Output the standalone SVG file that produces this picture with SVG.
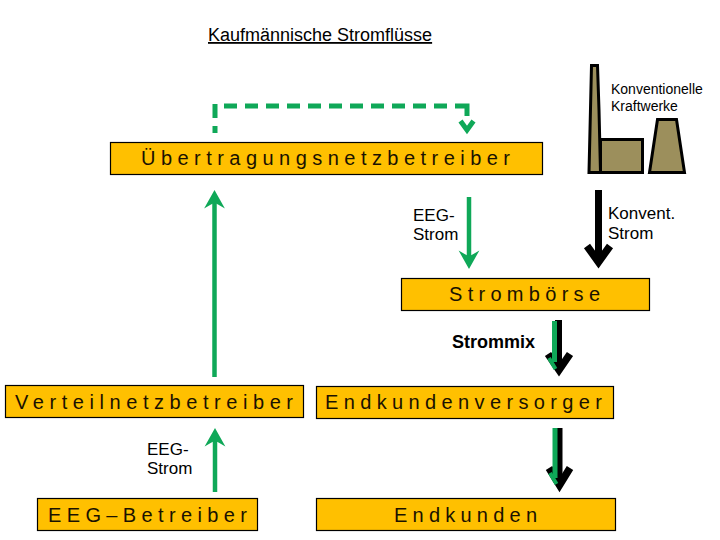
<svg xmlns="http://www.w3.org/2000/svg" width="720" height="540" viewBox="0 0 720 540">
<style>
text{font-family:"Liberation Sans",Arial,sans-serif;fill:#000}
.box{fill:#ffc000;stroke:#000;stroke-width:1.2}
.bt{font-size:20px;fill:#1a1200}
.lb{font-size:17px}
.g{fill:none;stroke:#0fa858;stroke-width:4.500}
.gh{fill:none;stroke:#0fa858;stroke-width:5;stroke-miterlimit:8}
.gs{fill:#0fa858;stroke:#0fa858;stroke-width:4;stroke-miterlimit:8}
.gd{fill:none;stroke:#0fa858;stroke-width:5}
.k{fill:none;stroke:#000;stroke-width:7}
.kh{fill:none;stroke:#000;stroke-width:7.500;stroke-miterlimit:8}
.f{fill:#9c8f5c;stroke:#000;stroke-width:3}
</style>
<rect width="720" height="540" fill="#fff"/>
<text id="title" x="208" y="41" font-size="18" text-decoration="underline">Kaufmännische Stromflüsse</text>
<g id="kraftwerke">
<path class="f" d="M591.500 65.500H597.500L599 110L600.500 172.500H589L590 130Z"/>
<rect class="f" x="600.500" y="139.500" width="42" height="33"/>
<path class="f" d="M657.500 119.500H676.500L684.500 172.500H649.500Z"/>
<text font-size="14" fill="#222"><tspan x="611" y="94">Konventionelle</tspan><tspan x="611" y="111">Kraftwerke</tspan></text>
</g>
<g id="uenb"><rect class="box" x="110.500" y="142.500" width="432" height="32"/><text class="bt" x="141" y="165" textLength="369" lengthAdjust="spacing">Übertragungsnetzbetreiber</text></g>
<g id="boerse"><rect class="box" x="401.500" y="278.500" width="248" height="32"/><text class="bt" x="449" y="301" textLength="151" lengthAdjust="spacing">Strombörse</text></g>
<g id="vnb"><rect class="box" x="5.500" y="385.500" width="298" height="32"/><text class="bt" x="15" y="409" textLength="278" lengthAdjust="spacing">Verteilnetzbetreiber</text></g>
<g id="versorger"><rect class="box" x="316.500" y="386.500" width="297" height="32"/><text class="bt" x="325" y="409" textLength="277" lengthAdjust="spacing">Endkundenversorger</text></g>
<g id="eeg"><rect class="box" x="37.500" y="498.500" width="220" height="32"/><text class="bt" x="48" y="522" textLength="199" lengthAdjust="spacing">EEG–Betreiber</text></g>
<g id="endkunden"><rect class="box" x="316.500" y="498.500" width="299" height="32"/><text class="bt" x="394" y="522" textLength="143" lengthAdjust="spacing">Endkunden</text></g>
<g id="labels">
<text class="lb"><tspan x="413" y="221">EEG-</tspan><tspan x="413" y="240">Strom</tspan></text>
<text class="lb"><tspan x="608" y="219">Konvent.</tspan><tspan x="608" y="239">Strom</tspan></text>
<text x="452" y="348" font-weight="bold" font-size="18">Strommix</text>
<text class="lb"><tspan x="147" y="455">EEG-</tspan><tspan x="147" y="474">Strom</tspan></text>
</g>
<g id="connectors">
<path class="gd" d="M215 133V126M215 118V104"/>
<path class="gd" d="M224 106H455" stroke-dasharray="13 8"/>
<path class="gd" d="M455 106H467V116"/>
<path class="gh" d="M460.500 121L467 130L473.500 121"/>
<path class="g" d="M214.500 377V198"/>
<path class="gs" d="M209.500 203L214.500 194L219.500 203Q214.500 200 209.500 203Z"/>
<path class="g" d="M469 197V260"/>
<path class="gs" d="M464 256L469 265L474 256Q469 259 464 256Z"/>
<path class="g" d="M215 492V436"/>
<path class="gs" d="M210 441L215 432L220 441Q215 438 210 441Z"/>
<path class="k" d="M598.500 190V262"/>
<path class="kh" d="M587 246L598.500 262L610 246"/>
<path class="k" d="M558.500 320V368"/>
<path class="kh" d="M548 354L559 370L570 354"/>
<path d="M554.500 321V362" fill="none" stroke="#0fa858" stroke-width="5"/>
<path d="M549 358L555.500 369" fill="none" stroke="#0fa858" stroke-width="4"/>
<path class="k" d="M559 428V480"/>
<path class="kh" d="M549 468L559.500 485L570 468"/>
<path d="M555 428V478" fill="none" stroke="#0fa858" stroke-width="5"/>
<path d="M550 473L556.500 484" fill="none" stroke="#0fa858" stroke-width="4"/>
</g>
</svg>
